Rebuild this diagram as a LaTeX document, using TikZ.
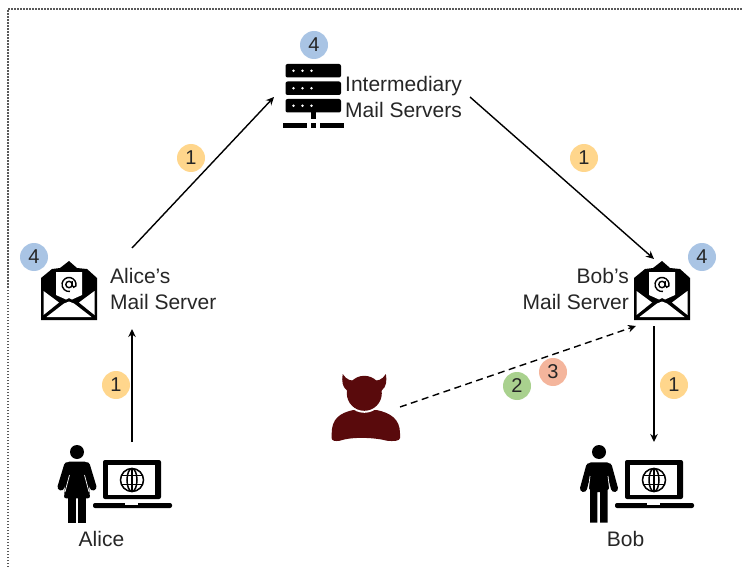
\documentclass[tikz,border=0pt]{standalone}
\usepackage{fontspec}
\setmainfont{Liberation Sans}
\usetikzlibrary{arrows.meta}
\definecolor{inkgray}{HTML}{262626}
\definecolor{badgeblue}{HTML}{A9C4E4}
\definecolor{badgeyellow}{HTML}{FFD68C}
\definecolor{badgegreen}{HTML}{A9D18E}
\definecolor{badgered}{HTML}{F4B59C}
\definecolor{devilred}{HTML}{590A0C}
\tikzset{
  hotspot/.style={inner sep=0pt,outer sep=0pt},
  badge/.style={circle,fill=#1,inner sep=0pt,minimum size=28pt,text=inkgray,font=\fontsize{20}{24}\selectfont},
  caption/.style={text=inkgray,font=\fontsize{21}{25.5}\selectfont,inner sep=0pt},
  wire/.style={line width=1.4pt,-{Stealth[length=8pt,width=7.5pt]}},
  mailicon/.pic={
    \fill[black] (-28,30) -- (-28,-12) -- (-17,-21) -- (-9,-22) -- (0,-29) -- (8,-22) -- (18,-21) -- (28,-12) -- (28,30) -- cycle;
    \fill[white] (-13,-18) -- (13,-18) -- (13,5) -- (3,9.5) -- (0,8) -- (-3,9.5) -- (-13,5) -- cycle;
    \fill[white] (-25.5,1) -- (-10,12.5) -- (-25.5,25) -- cycle;
    \fill[white] (25.5,1) -- (10,12.5) -- (25.5,25) -- cycle;
    \fill[white] (-22.5,27) -- (-5,13.5) -- (0,11.5) -- (5,13.5) -- (22.5,27) -- cycle;
    \draw[black,line width=1.4pt] (0,-5.5) circle (3.2);
    \draw[black,line width=1.4pt] (3.2,-9) -- (3.2,-4.5) .. controls (3.2,-2.5) and (6,-2) .. (6.85,-4.05) arc[start angle=12,delta angle=-290,radius=7];
  },
  laptopicon/.pic={
    \fill[black,rounded corners=2pt] (-29,-20) rectangle (29,19);
    \fill[white] (-24,-15) rectangle (23,15);
    \draw[black,line width=1.5pt] (0,0) circle (11.5);
    \draw[black,line width=1.5pt] (0,0) ellipse (5 and 11.5);
    \draw[black,line width=1.5pt] (0,-11.5) -- (0,11.5);
    \draw[black,line width=1.5pt] (-10.5,-4.5) -- (10.5,-4.5);
    \draw[black,line width=1.5pt] (-10.5,4.5) -- (10.5,4.5);
    \fill[black,rounded corners=2pt] (-39,23) -- (40,23) -- (40,28) -- (-39,28) -- cycle;
    \fill[white] (-7,23) rectangle (6,24.5);
  },
  womanicon/.pic={
    \fill[black] (-55,-28) circle (7);
    \draw[black,line width=7pt,line cap=round] (-64.5,-14.5) -- (-71,7);
    \draw[black,line width=7pt,line cap=round] (-45.5,-14.5) -- (-39,7);
    \fill[black,rounded corners=2pt] (-65,-18.3) -- (-45,-18.3) -- (-42,18.3) -- (-68,18.3) -- cycle;
    \draw[white,line width=.7pt] (-62.5,-5) -- (-67,12);
    \draw[white,line width=.7pt] (-47.5,-5) -- (-43,12);
    \fill[black] (-63.7,18) rectangle (-56,42.7);
    \fill[black] (-54,18) rectangle (-46.3,42.7);
  },
  manicon/.pic={
    \fill[black] (-55,-28) circle (7);
    \draw[black,line width=7pt,line cap=round] (-64.5,-13.5) -- (-70.5,8.5);
    \draw[black,line width=7pt,line cap=round] (-45.5,-13.5) -- (-39.5,8.5);
    \fill[black,rounded corners=2pt] (-65,-17.7) -- (-45,-17.7) -- (-45,10) -- (-65,10) -- cycle;
    \draw[white,line width=.7pt] (-64,-4) -- (-66,13);
    \draw[white,line width=.7pt] (-46,-4) -- (-44,13);
    \fill[black] (-64,8) -- (-46.3,8) -- (-46.3,42.7) -- (-53.8,42.7) -- (-53.8,12) -- (-56.7,12) -- (-56.7,42.7) -- (-64,42.7) -- cycle;
  },
  servericon/.pic={
    \foreach \racky in {-33,-15.5,2}{
      \fill[black,rounded corners=2pt] (-28,\racky) rectangle (27.5,\racky+13.5);
      \foreach \dotx in {-20,-11,-2}
        \fill[white] (\dotx,\racky+6.75) circle (1.4);
    }
    \fill[black] (-2.5,15) rectangle (2.5,22);
    \fill[black] (-31,26) rectangle (-7,31);
    \fill[black] (-2.5,26) rectangle (2.5,31);
    \fill[black] (6,26) rectangle (30,31);
  },
  devilicon/.pic={
    \fill[devilred] (-33.8,31.3) -- (-33.8,26.3) .. controls (-33.8,12) and (-26,6) .. (-12.2,3) -- (11.2,3) .. controls (25,6) and (34.5,12) .. (34.5,26.3) -- (34.5,31) .. controls (34.5,34) and (28,34.5) .. (21.2,33.7) .. controls (12,31) and (-12,29) .. (-25.5,33.7) .. controls (-30,34.5) and (-33.8,34) .. (-33.8,31.3) -- cycle;
    \fill[white] (-1.2,-13.7) circle (19.5);
    \fill[devilred] (-22.8,-33) .. controls (-19,-27) and (-14,-25.5) .. (-10,-27) -- (-15,-12) -- (-19,-17) .. controls (-23,-20) and (-24,-26) .. cycle;
    \fill[devilred] (20.4,-33) .. controls (16.6,-27) and (11.6,-25.5) .. (7.6,-27) -- (12.6,-12) -- (16.6,-17) .. controls (20.6,-20) and (21.6,-26) .. cycle;
    \fill[devilred] (-1.2,-13.7) circle (17.5);
  }
}
\begin{document}
\begin{tikzpicture}[x=1pt,y=-1pt]
  \useasboundingbox (0,0) rectangle (742,567);

  % page frame
  \draw[black!65,line width=1.3pt,dash pattern=on 1.5pt off 1.5pt] (8,567) -- (8,9) -- (742,9);

  % areas the arrows attach to
  \node (alice) at (132,483.5) [hotspot,minimum width=80pt,minimum height=83pt] {};
  \node (bob) at (654,483.5) [hotspot,minimum width=80pt,minimum height=83pt] {};
  \node (alicemail) at (132,288.5) [hotspot,minimum width=182pt,minimum height=81pt] {};
  \node (bobmail) at (654,292.5) [hotspot,minimum width=36pt,minimum height=67pt] {};
  \node (relay) at (372,97) [hotspot,minimum width=196pt,minimum height=62pt] {};
  \node (attacker) at (365.5,407) [hotspot,minimum width=69pt,minimum height=70pt] {};

  % icons
  \pic at (69,290) {mailicon};
  \pic at (662,290) {mailicon};
  \pic at (313.5,97) {servericon};
  \pic at (132,480) {laptopicon};
  \pic at (132,480) {womanicon};
  \pic at (654,480) {laptopicon};
  \pic at (654,480) {manicon};
  \pic at (365.5,407) {devilicon};

  % labels
  \node (alicetext) at (101.5,539) [caption] {Alice};
  \node (bobtext) at (625.5,539) [caption] {Bob};
  \node (alicemailtext) at (110,289) [caption,anchor=west,align=left] {Alice’s\\Mail Server};
  \node (bobmailtext) at (629,289) [caption,anchor=east,align=right] {Bob’s\\Mail Server};
  \node (relaytext) at (345,97) [caption,anchor=west,align=left] {Intermediary\\Mail Servers};

  % arrows
  \draw[wire] (alice.north) -- (alicemail.south);
  \draw[wire] (alicemail.north) -- (relay.west);
  \draw[wire] (relay.east) -- (bobmail.north);
  \draw[wire] (bobmail.south) -- (bob.north);
  \draw[wire,dash pattern=on 7pt off 4.5pt] (attacker.east) -- (bobmail.south west);

  % step numbers
  \node (stepa) at (116,385) [badge=badgeyellow] {1};
  \node (stepb) at (191,158) [badge=badgeyellow] {1};
  \node (stepc) at (584,158) [badge=badgeyellow] {1};
  \node (stepd) at (674,385) [badge=badgeyellow] {1};
  \node (stepe) at (517,386) [badge=badgegreen] {2};
  \node (stepf) at (553,372) [badge=badgered] {3};
  \node (stepg) at (34,257) [badge=badgeblue] {4};
  \node (steph) at (314,45) [badge=badgeblue] {4};
  \node (stepi) at (702,257) [badge=badgeblue] {4};
\end{tikzpicture}
\end{document}
